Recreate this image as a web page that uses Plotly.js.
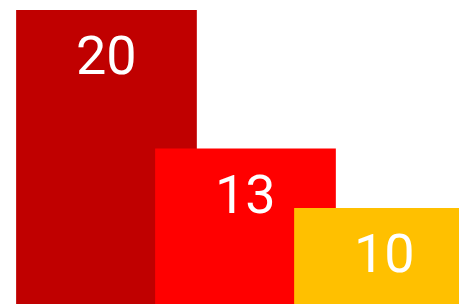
<!DOCTYPE html>
<html><head><meta charset="utf-8">
<script src="https://cdn.plot.ly/plotly-3.0.1.min.js"></script>
<style>html,body{margin:0;padding:0;background:#fff}#chart{width:459px;height:304px}</style>
</head><body><div id="chart"></div>
<script>
const categories = ["A", "B", "C"];
const values = [20, 13, 10];
const labels = ["20", "13", "10"];
const colors = ["#C00000", "#FF0000", "#FFC000"];
const xpos = categories.map((c, i) => i);

const trace = {
  type: "bar",
  x: xpos,
  y: values,
  width: 1.3,
  marker: {color: colors, line: {width: 0}},
  hoverinfo: "none"
};
const annotations = values.map((v, i) => ({
  x: xpos[i], y: v, xref: "x", yref: "y",
  text: labels[i], showarrow: false,
  xanchor: "center", yanchor: "top", yshift: -12,
  font: {family: "Roboto", size: 54, color: "#ffffff"}
}));
const layout = {
  width: 459, height: 304,
  margin: {l: 0, r: 0, t: 0, b: 0, pad: 0},
  paper_bgcolor: "#ffffff", plot_bgcolor: "#ffffff",
  showlegend: false,
  xaxis: {range: [-0.766, 2.536], visible: false, showgrid: false, zeroline: false},
  yaxis: {range: [5.15, 20.505], visible: false, showgrid: false, zeroline: false},
  annotations: annotations
};
Plotly.newPlot("chart", [trace], layout, {staticPlot: true, displayModeBar: false});
</script></body></html>
